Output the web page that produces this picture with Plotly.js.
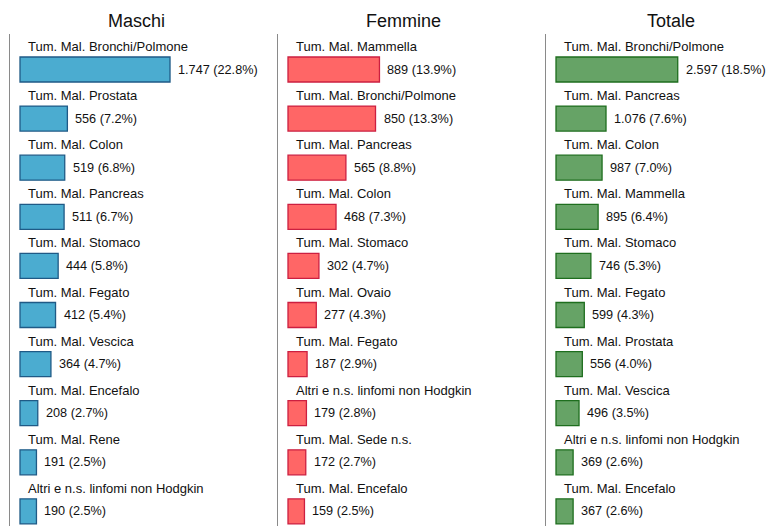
<!DOCTYPE html>
<html>
<head>
<meta charset="utf-8">
<script src="https://cdn.plot.ly/plotly-3.0.1.min.js"></script>
<style>html,body{margin:0;padding:0;background:#fff;}#chart{width:769px;height:526px;}</style>
</head>
<body>
<div id="chart"></div>
<script>
// Maschi
var maschiCategories = ["Tum. Mal. Bronchi/Polmone","Tum. Mal. Prostata","Tum. Mal. Colon","Tum. Mal. Pancreas","Tum. Mal. Stomaco","Tum. Mal. Fegato","Tum. Mal. Vescica","Tum. Mal. Encefalo","Tum. Mal. Rene","Altri e n.s. linfomi non Hodgkin"];
var maschiValues = [1747,556,519,511,444,412,364,208,191,190];
var maschiPct = [22.8,7.2,6.8,6.7,5.8,5.4,4.7,2.7,2.5,2.5];
// Femmine
var femmineCategories = ["Tum. Mal. Mammella","Tum. Mal. Bronchi/Polmone","Tum. Mal. Pancreas","Tum. Mal. Colon","Tum. Mal. Stomaco","Tum. Mal. Ovaio","Tum. Mal. Fegato","Altri e n.s. linfomi non Hodgkin","Tum. Mal. Sede n.s.","Tum. Mal. Encefalo"];
var femmineValues = [889,850,565,468,302,277,187,179,172,159];
var femminePct = [13.9,13.3,8.8,7.3,4.7,4.3,2.9,2.8,2.7,2.5];
// Totale
var totaleCategories = ["Tum. Mal. Bronchi/Polmone","Tum. Mal. Pancreas","Tum. Mal. Colon","Tum. Mal. Mammella","Tum. Mal. Stomaco","Tum. Mal. Fegato","Tum. Mal. Prostata","Tum. Mal. Vescica","Altri e n.s. linfomi non Hodgkin","Tum. Mal. Encefalo"];
var totaleValues = [2597,1076,987,895,746,599,556,496,369,367];
var totalePct = [18.5,7.6,7.0,6.4,5.3,4.3,4.0,3.5,2.6,2.6];

var panelTitles = ["Maschi","Femmine","Totale"];

var W = 769, H = 526;
var FONT = "Arial, 'Liberation Sans', sans-serif";

function fmtNum(v){ return String(v).replace(/\B(?=(\d{3})+(?!\d))/g, "."); }
function fmtLabel(v,p){ return fmtNum(v) + " (" + p.toFixed(1) + "%)"; }

var panels = [
  {cats: maschiCategories, vals: maschiValues, pct: maschiPct, fill: "#4BACD0", line: "#1F5A86", left: 10, right: 262, titleX: 136},
  {cats: femmineCategories, vals: femmineValues, pct: femminePct, fill: "#FF6666", line: "#CC1F40", left: 278, right: 530, titleX: 403},
  {cats: totaleCategories, vals: totaleValues, pct: totalePct, fill: "#66A366", line: "#1E6E1E", left: 546, right: 769, titleX: 671}
];

var pxPerUnit = 6.58;
var padPx = 10;
var topPx = 34;
var firstCenter = 69.5, pitch = 49.1;
var yTop = (topPx - firstCenter) / pitch;
var yBottom = (H - firstCenter) / pitch;

var traces = [];
var layout = {
  width: W, height: H,
  margin: {l: 0, r: 0, t: 0, b: 0},
  paper_bgcolor: "#fff", plot_bgcolor: "#fff",
  showlegend: false,
  hovermode: false,
  font: {family: FONT, size: 12, color: "#222"},
  annotations: []
};

panels.forEach(function(p, i){
  var xa = i === 0 ? "x" : "x" + (i+1);
  var ya = i === 0 ? "y" : "y" + (i+1);
  var xkey = i === 0 ? "xaxis" : "xaxis" + (i+1);
  var ykey = i === 0 ? "yaxis" : "yaxis" + (i+1);
  traces.push({
    type: "bar", orientation: "h",
    x: p.pct, y: p.cats,
    xaxis: xa, yaxis: ya,
    width: 0.51,
    marker: {color: p.fill, line: {color: p.line, width: 1.3}},
    hoverinfo: "skip"
  });
  var domW = p.right - p.left;
  var x0 = -padPx / pxPerUnit;
  layout[xkey] = {
    domain: [p.left / W, p.right / W],
    range: [x0, x0 + domW / pxPerUnit],
    visible: false, fixedrange: true,
    anchor: ya
  };
  layout[ykey] = {
    domain: [0, 1 - topPx / H],
    type: "category",
    categoryarray: p.cats, categoryorder: "array",
    range: [yBottom, yTop],
    showline: true, linecolor: "#8a8a8a", linewidth: 1.5,
    showticklabels: false, ticks: "", showgrid: false, zeroline: false,
    fixedrange: true,
    anchor: xa
  };
  p.cats.forEach(function(c, k){
    layout.annotations.push({
      xref: xa, yref: ya, x: 0, y: c,
      text: c, showarrow: false, xanchor: "left", yanchor: "middle",
      xshift: 6, yshift: 23,
      font: {family: FONT, size: 13, color: "#111"}
    });
    layout.annotations.push({
      xref: xa, yref: ya, x: p.pct[k], y: c,
      text: fmtLabel(p.vals[k], p.pct[k]), showarrow: false, xanchor: "left", yanchor: "middle",
      xshift: 6,
      font: {family: FONT, size: 12.7, color: "#111"}
    });
  });
  layout.annotations.push({
    xref: "paper", yref: "paper", x: p.titleX / W, y: 1 - 21 / H,
    text: panelTitles[i], showarrow: false, xanchor: "center", yanchor: "middle",
    font: {family: FONT, size: 18, color: "#111"}
  });
});

Plotly.newPlot("chart", traces, layout, {displayModeBar: false, staticPlot: true});
</script>
</body>
</html>
